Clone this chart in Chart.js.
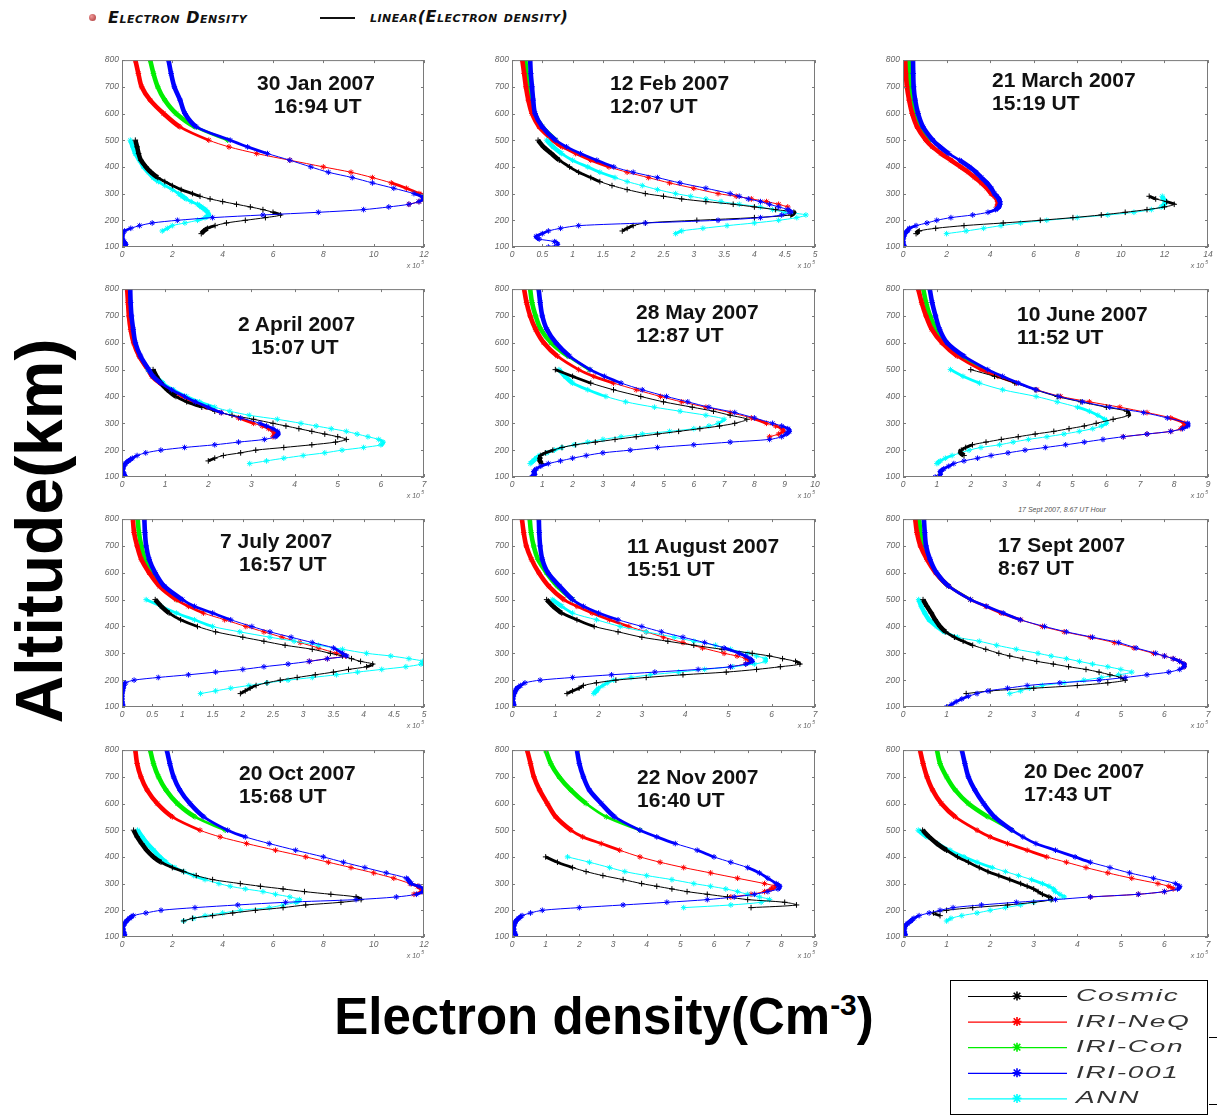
<!DOCTYPE html>
<html>
<head>
<meta charset="utf-8">
<title>Electron density profiles 2007</title>
<script src="https://cdn.jsdelivr.net/npm/chart.js@4.4.1/dist/chart.umd.min.js"></script>
<style>
  html, body { margin: 0; padding: 0; background: #fff; }
  body { position: relative; width: 1219px; height: 1116px; overflow: hidden; font-family: "Liberation Sans", Arial, sans-serif; }
  canvas.panel { position: absolute; }
  .note { position: absolute; font-weight: bold; font-size: 21px; line-height: 24px; color: #111; white-space: nowrap; }
  .hand { position: absolute; font: italic bold 16px "DejaVu Sans", sans-serif; font-variant: small-caps; letter-spacing: .5px; color: #111; white-space: nowrap; line-height: 18px; }
  .leg { position: absolute; font: italic 17px "Liberation Sans", Arial, sans-serif; letter-spacing: 1px; color: #333; transform-origin: 0 50%; transform: scaleX(1.65); white-space: nowrap; line-height: 20px; }
</style>
</head>
<body>
<div style="position:absolute;left:89px;top:14px;width:7px;height:7px;border-radius:50%;background:radial-gradient(circle at 35% 35%,#e99,#a33)"></div>
<div class="hand" style="left:108px;top:9px">Electron Density</div>
<div style="position:absolute;left:320px;top:17px;width:35px;height:1.5px;background:#111"></div>
<div class="hand" style="left:370px;top:8px">linear(Electron density)</div>

<div style="position:absolute;left:39px;top:531px;transform:translate(-50%,-50%) rotate(-90deg);font:bold 66px 'Liberation Sans',Arial,sans-serif;white-space:nowrap;line-height:72px">Altitude(km)</div>
<div style="position:absolute;left:604px;top:1020px;transform:translate(-50%,-50%);font:bold 51px 'Liberation Sans',Arial,sans-serif;white-space:nowrap;line-height:58px">Electron density(Cm<span style="font-size:30px;position:relative;top:-19px">-3</span>)</div>

<div style="position:absolute;left:1062px;top:506px;transform:translateX(-50%);font:italic 7px 'Liberation Sans',Arial,sans-serif;color:#555;white-space:nowrap">17 Sept 2007, 8.67 UT Hour</div>

<div style="position:absolute;left:950px;top:980px;width:256px;height:133px;border:1.5px solid #000"></div>
<div style="position:absolute;left:1209px;top:1037px;width:8px;height:1px;background:#000"></div>
<div style="position:absolute;left:1209px;top:1104px;width:8px;height:1px;background:#000"></div>
<canvas id="legendMarks" width="120" height="136" style="position:absolute;left:960px;top:980px"></canvas>
<div id="legendText"></div>

<script>
// altitude grids (km)
const ALT_IRI = [100,110,120,130,140,150,160,170,180,190,200,210,220,230,240,250,260,270,280,290,300,320,340,360,380,400,425,450,475,500,550,600,650,700,750,800];
const ALT_NEQ = [250,260,270,280,290,300,320,340,360,380,400,425,450,475,500,550,600,650,700,750,800];
const ALT_CON = [500,550,600,650,700,750,800];
const ALT_OBS = [150,160,170,180,190,200,210,220,230,240,250,260,270,280,290,300,315,330,345,360,380,400,425,450,475,500];

const DATES = ['30 Jan 2007','12 Feb 2007','21 March 2007','2 April 2007','28 May 2007','10 June 2007',
               '7 July 2007','11 August 2007','17 Sept 2007','20 Oct 2007','22 Nov 2007','20 Dec 2007'];
const TIMES = ['16:94 UT','12:07 UT','15:19 UT','15:07 UT','12:87 UT','11:52 UT',
               '16:57 UT','15:51 UT','8:67 UT','15:68 UT','16:40 UT','17:43 UT'];
const X_MAX  = [12, 5, 14, 7, 10, 9, 5, 7, 7, 12, 9, 7];
const X_STEP = [2, 0.5, 2, 1, 1, 1, 0.5, 1, 1, 2, 1, 1];

// electron density (x10^5 cm^-3), one row per panel
const IRI_001 = [
  [0.12,0.15,0.08,0.02,0,0.03,0.1,0.35,0.7,1.2,2.2,3.6,5.6,7.8,9.6,10.6,11.4,11.8,12.0,11.9,11.6,10.8,9.95,9.15,8.2,7.5,6.67,5.78,4.99,4.3,2.96,2.5,2.31,2.08,1.95,1.85],
  [0.6,0.75,0.7,0.45,0.4,0.5,0.6,0.8,1.1,2.2,3.4,4.1,4.45,4.6,4.55,4.4,4.25,4.1,3.9,3.75,3.6,3.2,2.77,2.4,2.0,1.68,1.4,1.13,0.9,0.72,0.5,0.38,0.35,0.33,0.31,0.3],
  [0.07,0.02,0,0,0.04,0.08,0.2,0.3,0.6,1.1,1.55,2.2,3.2,3.9,4.25,4.4,4.45,4.45,4.4,4.3,4.2,4.05,3.85,3.6,3.35,3.05,2.6,2.1,1.7,1.37,0.92,0.69,0.56,0.49,0.47,0.46],
  [0.08,0.05,0.02,0.02,0.04,0.08,0.15,0.24,0.35,0.55,0.9,1.45,2.15,2.7,3.3,3.55,3.62,3.6,3.5,3.35,3.2,2.75,2.3,2.0,1.7,1.45,1.15,0.9,0.72,0.62,0.43,0.31,0.26,0.22,0.2,0.19],
  [0.65,0.75,0.72,0.8,0.95,1.2,1.6,2.0,2.45,3.0,3.9,4.8,6.0,7.2,8.5,8.9,9.05,9.15,9.1,8.9,8.6,8.0,7.35,6.5,5.8,5.1,4.3,3.6,3.05,2.58,1.9,1.45,1.15,1.0,0.93,0.88],
  [0.95,1.1,1.1,1.2,1.35,1.5,1.8,2.2,2.6,3.1,3.6,4.2,4.8,5.35,5.9,6.5,7.2,7.9,8.25,8.4,8.4,7.8,7.1,6.1,5.3,4.6,3.93,3.4,2.94,2.5,1.8,1.3,1.08,0.96,0.86,0.79],
  [0.02,0.01,0,0,0,0,0.01,0.02,0.03,0.06,0.2,0.6,1.1,1.55,2.0,2.35,2.75,3.1,3.4,3.72,3.65,3.5,3.15,2.8,2.45,2.15,1.8,1.5,1.2,1.0,0.7,0.55,0.45,0.4,0.38,0.37],
  [0.05,0.04,0.02,0.02,0.03,0.05,0.08,0.12,0.2,0.3,0.65,1.4,2.3,3.3,4.3,5.05,5.4,5.55,5.5,5.4,5.25,4.9,4.45,3.95,3.45,3.0,2.45,2.0,1.65,1.4,1.1,0.83,0.7,0.65,0.63,0.62],
  [1.0,1.12,1.22,1.35,1.5,1.7,1.95,2.4,2.85,3.6,4.5,5.1,5.6,6.1,6.35,6.45,6.45,6.35,6.2,6.0,5.8,5.35,4.95,4.35,3.75,3.25,2.69,2.3,1.92,1.55,1.05,0.77,0.62,0.53,0.5,0.48],
  [0.12,0.1,0.06,0.04,0.04,0.1,0.18,0.3,0.45,0.95,1.55,2.9,4.6,6.5,9.3,10.9,11.7,11.95,12.0,11.8,11.5,11.3,10.5,9.65,8.8,8.0,6.9,5.85,4.9,4.2,3.25,2.7,2.3,2.05,1.9,1.78],
  [0.12,0.1,0.06,0.05,0.05,0.08,0.12,0.2,0.3,0.55,0.9,2.0,3.3,4.6,5.8,6.6,7.2,7.6,7.9,7.95,7.85,7.6,7.35,7.0,6.5,6.0,5.5,4.85,4.3,3.8,3.05,2.65,2.3,2.12,2.0,1.93],
  [0.05,0.05,0.03,0.03,0.05,0.1,0.18,0.25,0.37,0.6,0.85,1.15,1.8,2.6,3.5,4.3,5.4,6.0,6.3,6.35,6.25,5.75,5.2,4.75,4.3,3.95,3.5,3.05,2.75,2.5,2.1,1.85,1.65,1.5,1.42,1.35]
];
const IRI_NEQ = [
  [null,11.4,11.8,12.0,11.95,11.8,11.3,10.7,9.95,9.1,8.0,6.67,5.35,4.25,3.45,2.3,1.65,1.12,0.78,0.65,0.53],
  [4.55,4.4,4.2,3.95,3.7,3.4,3.0,2.6,2.25,1.9,1.6,1.3,1.05,0.83,0.68,0.45,0.33,0.27,0.23,0.2,0.17],
  [4.3,4.35,4.35,4.3,4.2,4.05,3.85,3.6,3.3,3.0,2.65,2.2,1.75,1.35,1.05,0.65,0.42,0.28,0.18,0.13,0.1],
  [3.5,3.55,3.5,3.4,3.25,3.05,2.7,2.3,1.95,1.65,1.4,1.1,0.88,0.7,0.6,0.4,0.27,0.2,0.16,0.14,0.12],
  [8.5,8.8,8.95,8.9,8.7,8.4,7.9,7.2,6.4,5.6,4.9,4.1,3.35,2.7,2.2,1.5,1.05,0.78,0.6,0.48,0.4],
  [6.5,7.2,7.9,8.2,8.3,8.3,7.9,7.2,6.4,5.5,4.65,3.95,3.35,2.8,2.3,1.6,1.15,0.85,0.68,0.55,0.45],
  [null,null,3.1,3.4,3.7,3.55,3.25,2.95,2.65,2.35,2.05,1.7,1.35,1.1,0.9,0.62,0.45,0.32,0.25,0.2,0.18],
  [5.05,5.4,5.5,5.4,5.2,4.9,4.4,3.95,3.5,3.1,2.7,2.25,1.85,1.5,1.2,0.85,0.62,0.45,0.33,0.27,0.23],
  [6.45,6.45,6.35,6.2,6.0,5.75,5.3,4.85,4.3,3.7,3.2,2.7,2.25,1.9,1.55,1.05,0.75,0.55,0.4,0.32,0.28],
  [null,11.6,11.9,11.9,11.75,11.45,10.8,10.0,9.1,8.2,7.3,6.1,4.95,3.9,3.1,2.0,1.4,1.0,0.75,0.6,0.53],
  [6.5,7.1,7.5,7.7,7.8,7.5,6.7,5.9,5.1,4.4,3.8,3.2,2.65,2.1,1.75,1.3,1.05,0.82,0.65,0.55,0.45],
  [4.3,5.4,6.0,6.2,6.1,5.85,5.25,4.7,4.2,3.75,3.3,2.85,2.4,2.0,1.7,1.2,0.88,0.68,0.55,0.46,0.39]
];
const IRI_CON = [
  [4.2,2.9,2.15,1.7,1.42,1.25,1.12],
  [0.72,0.5,0.37,0.32,0.28,0.24,0.22],
  [1.2,0.75,0.5,0.38,0.32,0.29,0.27],
  [0.61,0.41,0.29,0.23,0.19,0.17,0.16],
  [2.55,1.85,1.3,0.95,0.78,0.66,0.6],
  [2.4,1.7,1.25,0.98,0.8,0.68,0.6],
  [0.92,0.66,0.5,0.38,0.32,0.28,0.26],
  [1.4,1.05,0.8,0.6,0.5,0.44,0.41],
  [1.55,1.05,0.76,0.58,0.46,0.4,0.37],
  [4.1,2.9,2.2,1.75,1.45,1.25,1.12],
  [3.8,2.8,2.2,1.75,1.4,1.15,1.0],
  [2.5,1.95,1.5,1.2,1.0,0.85,0.78]
];
const COSMIC = [
  [3.15,3.25,3.4,3.7,4.15,4.9,5.7,6.3,6.0,5.6,5.1,4.55,4.0,3.5,3.1,2.8,2.35,2.0,1.7,1.42,1.15,0.95,0.75,0.66,0.6,0.53],
  [null,1.82,1.9,2.0,2.2,3.05,4.0,4.6,4.65,4.35,4.0,3.65,3.2,2.8,2.5,2.2,1.9,1.65,1.45,1.3,1.1,0.95,0.78,0.65,0.52,0.43],
  [0.6,0.75,1.5,2.8,4.6,6.3,7.8,9.1,10.2,11.2,12.0,12.45,12.1,11.6,11.3,null,null,null,null,null,null,null,null,null,null,null],
  [null,2.0,2.15,2.35,2.75,3.1,3.75,4.4,4.95,5.2,5.0,4.7,4.4,4.1,3.8,3.5,3.05,2.55,2.15,1.85,1.5,1.25,1.05,0.9,0.8,0.72],
  [0.98,0.92,0.92,0.95,1.1,1.35,1.65,2.1,2.75,3.4,4.1,4.8,5.5,6.2,6.85,7.35,7.75,7.2,6.65,5.95,5.0,4.25,3.35,2.6,2.0,1.43],
  [null,null,null,1.8,1.7,1.72,1.85,2.05,2.45,2.9,3.4,3.9,4.45,4.9,5.35,5.7,6.2,6.65,6.6,6.0,5.25,4.55,3.9,3.3,2.7,2.0],
  [1.96,2.04,2.12,2.22,2.4,2.62,2.9,3.2,3.5,3.75,4.05,4.15,3.95,3.8,3.65,3.45,3.15,2.7,2.35,2.0,1.55,1.25,0.97,0.78,0.65,0.55],
  [1.27,1.4,1.55,1.65,1.95,2.4,3.1,3.95,4.95,5.65,6.2,6.65,6.55,6.25,5.95,5.55,4.85,4.2,3.6,3.0,2.45,1.9,1.5,1.15,0.95,0.8],
  [1.45,2.0,3.0,4.0,4.7,5.1,5.0,4.75,4.5,4.2,3.8,3.45,3.07,2.75,2.45,2.2,1.9,1.6,1.38,1.18,0.98,0.85,0.74,0.65,0.55,0.46],
  [null,2.45,2.8,3.6,4.4,5.3,6.4,7.3,8.7,9.5,9.3,8.3,7.25,6.4,5.5,4.7,3.6,2.95,2.45,2.0,1.55,1.25,0.98,0.78,0.6,0.46],
  [null,null,null,null,null,null,7.1,8.45,8.1,7.0,6.4,5.8,5.2,4.75,4.3,3.85,3.3,2.7,2.2,1.8,1.35,1.0,null,null,null,null],
  [null,null,null,0.85,0.7,1.0,1.6,2.4,3.0,3.4,3.35,3.2,3.1,3.0,2.85,2.7,2.45,2.2,1.95,1.75,1.5,1.25,1.0,0.78,0.6,0.45]
];
const ANN = [
  [null,1.6,1.8,2.0,2.5,3.0,3.3,3.45,3.4,3.3,3.15,3.0,2.75,2.55,2.4,2.25,2.0,1.7,1.45,1.25,1.05,0.86,0.7,0.53,0.43,0.33],
  [2.7,2.8,3.15,3.55,4.0,4.4,4.7,4.85,4.5,4.3,4.1,3.75,3.45,3.2,2.95,2.7,2.4,2.15,1.9,1.7,1.45,1.25,1.0,0.82,0.68,0.57],
  [2.0,2.9,3.7,4.5,5.4,6.6,8.0,9.4,10.6,11.4,11.85,12.0,12.05,11.95,11.9,null,null,null,null,null,null,null,null,null,null,null],
  [2.96,3.35,3.75,4.2,4.7,5.1,5.6,6.0,6.05,5.95,5.7,5.45,5.2,4.85,4.5,4.15,3.6,2.95,2.5,2.15,1.8,1.5,1.19,0.95,0.77,0.6],
  [0.6,0.7,0.8,0.92,1.15,1.4,1.65,2.05,2.5,3.0,3.6,4.3,5.2,6.0,6.5,6.8,7.0,6.4,5.55,4.7,3.75,3.1,2.5,2.0,1.75,1.55],
  [1.0,1.1,1.25,1.45,1.7,1.95,2.3,2.85,3.25,3.7,4.25,4.75,5.2,5.6,5.85,6.0,5.95,5.75,5.5,5.15,4.55,3.93,2.94,2.26,1.77,1.4],
  [1.3,1.55,1.8,2.1,2.4,2.75,3.15,3.55,3.9,4.3,4.7,4.95,4.98,4.75,4.45,4.05,3.65,3.25,2.85,2.45,1.95,1.5,1.2,0.9,0.65,0.4],
  [1.89,1.95,2.0,2.1,2.2,2.35,2.75,3.2,3.85,4.45,5.1,5.6,5.85,5.85,5.65,5.45,5.05,4.7,4.2,3.75,3.1,2.5,1.95,1.4,1.15,0.93],
  [2.45,2.7,2.9,3.2,3.7,4.15,4.55,4.95,5.25,5.0,4.7,4.35,4.05,3.75,3.4,3.1,2.6,2.15,1.75,1.25,0.95,0.78,0.6,0.5,0.42,0.36],
  [null,2.45,2.85,3.3,4.0,4.7,5.85,6.4,6.9,7.05,6.67,6.1,5.6,4.9,4.3,3.85,3.3,2.85,2.45,2.1,1.75,1.5,1.25,1.0,0.8,0.62],
  [null,null,null,null,null,null,5.1,6.5,7.4,7.65,7.35,7.0,6.7,6.35,5.9,5.4,4.75,4.0,3.35,2.9,2.3,1.65,null,null,null,null],
  [null,1.0,1.1,1.35,1.7,2.0,2.35,2.7,3.0,3.4,3.7,3.6,3.5,3.45,3.35,3.2,2.95,2.65,2.35,2.05,1.7,1.4,1.08,0.8,0.55,0.35]
];

const LEGEND_NAMES = ['Cosmic', 'IRI-NeQ', 'IRI-Con', 'IRI-001', 'ANN'];
const COLORS = { 'Cosmic': '#000000', 'IRI-NeQ': '#ff0000', 'IRI-Con': '#00ee00', 'IRI-001': '#0000ff', 'ANN': '#00ffff' };

// layout: plot boxes and in-panel notes
const COLS = [[122, 424], [512, 815], [903, 1208]];
const ROWS = [[60, 247], [289, 477], [519, 707], [750, 937]];
const NOTE_X1 = [257, 610, 992, 238, 636, 1017, 220, 627, 998, 239, 637, 1024];
const NOTE_X2 = [274, 610, 992, 251, 636, 1017, 239, 627, 998, 239, 637, 1024];
const NOTE_Y  = [83, 83, 80, 324, 312, 314, 541, 546, 545, 773, 777, 771];

const pick = (alts, vals) => alts.map((a, i) => vals[i] == null ? null : { x: vals[i], y: a }).filter(Boolean);

// markers sit a few km apart, so steep stretches read as a thick band
function bandWidth(ctx) {
  const dx = Math.abs(ctx.p1.x - ctx.p0.x);
  const dy = Math.abs(ctx.p1.y - ctx.p0.y) + 0.01;
  const s = dx / dy;
  if (s < 1.5) return 4.6;
  if (s < 3) return 2.8;
  return 1;
}

function series(name, style, pts) {
  const c = COLORS[name];
  return {
    label: name, data: pts, showLine: true,
    borderColor: c, backgroundColor: c, borderWidth: 1,
    pointStyle: style, pointRadius: 2.8, pointBorderWidth: 1, pointBorderColor: c, pointHoverRadius: 0,
    tension: 0.3, segment: { borderWidth: bandWidth }
  };
}

const matlabAxes = {
  id: 'matlabAxes',
  afterDraw(chart) {
    const { ctx, chartArea: a, scales: { x, y } } = chart;
    ctx.save();
    ctx.strokeStyle = '#7a7a7a';
    ctx.lineWidth = 1;
    ctx.strokeRect(a.left + 0.5, a.top + 0.5, a.right - a.left - 1, a.bottom - a.top - 1);
    ctx.beginPath();
    x.ticks.forEach(t => {
      const p = Math.round(x.getPixelForValue(t.value)) + 0.5;
      ctx.moveTo(p, a.bottom); ctx.lineTo(p, a.bottom - 3);
      ctx.moveTo(p, a.top); ctx.lineTo(p, a.top + 3);
    });
    y.ticks.forEach(t => {
      const p = Math.round(y.getPixelForValue(t.value)) + 0.5;
      ctx.moveTo(a.left, p); ctx.lineTo(a.left + 3, p);
      ctx.moveTo(a.right, p); ctx.lineTo(a.right - 3, p);
    });
    ctx.stroke();
    ctx.fillStyle = '#666';
    ctx.textAlign = 'right';
    ctx.font = 'italic 7px "Liberation Sans", Arial';
    ctx.fillText('x 10', a.right - 4, a.bottom + 21);
    ctx.font = 'italic 5px "Liberation Sans", Arial';
    ctx.fillText('5', a.right, a.bottom + 17);
    ctx.restore();
  }
};

const tickFont = { family: '"Liberation Sans", Arial, sans-serif', size: 8.5, style: 'italic' };
const noGrid = { display: false, drawTicks: false, tickLength: 0 };

for (let i = 0; i < 12; i++) {
  const [l, r] = COLS[i % 3];
  const [t, b] = ROWS[Math.floor(i / 3)];
  const cv = document.createElement('canvas');
  cv.className = 'panel';
  cv.width = (r - l) + 40;
  cv.height = (b - t) + 38;
  cv.style.left = (l - 30) + 'px';
  cv.style.top = (t - 8) + 'px';
  document.body.appendChild(cv);

  new Chart(cv, {
    type: 'scatter',
    data: {
      datasets: [
        series('IRI-001', 'star', pick(ALT_IRI, IRI_001[i])),
        series('Cosmic', 'cross', pick(ALT_OBS, COSMIC[i])),
        series('ANN', 'star', pick(ALT_OBS, ANN[i])),
        series('IRI-NeQ', 'star', pick(ALT_NEQ, IRI_NEQ[i])),
        series('IRI-Con', 'star', pick(ALT_CON, IRI_CON[i]))
      ]
    },
    options: {
      responsive: false, animation: false, events: [],
      layout: { padding: { left: 8, top: 8, right: 10, bottom: 0 } },
      plugins: { legend: { display: false }, tooltip: { enabled: false } },
      scales: {
        x: {
          type: 'linear', min: 0, max: X_MAX[i],
          grid: noGrid, border: { display: false },
          afterFit: s => { s.height = 30; },
          ticks: { stepSize: X_STEP[i], autoSkip: false, maxRotation: 0, padding: 3, color: '#666', font: tickFont,
                   callback: v => String(+v.toFixed(2)) }
        },
        y: {
          type: 'linear', min: 100, max: 800,
          grid: noGrid, border: { display: false },
          afterFit: s => { s.width = 22; },
          ticks: { stepSize: 100, autoSkip: false, padding: 3, color: '#666', font: tickFont }
        }
      }
    },
    plugins: [matlabAxes]
  });

  const n1 = document.createElement('div');
  n1.className = 'note';
  n1.textContent = DATES[i];
  n1.style.left = NOTE_X1[i] + 'px';
  n1.style.top = (NOTE_Y[i] - 12) + 'px';
  document.body.appendChild(n1);
  const n2 = document.createElement('div');
  n2.className = 'note';
  n2.textContent = TIMES[i];
  n2.style.left = NOTE_X2[i] + 'px';
  n2.style.top = (NOTE_Y[i] + 11) + 'px';
  document.body.appendChild(n2);
}

// bottom-right legend
const lg = document.getElementById('legendMarks').getContext('2d');
const legendText = document.getElementById('legendText');
LEGEND_NAMES.forEach((name, k) => {
  const yy = 16 + k * 25.6;
  const c = COLORS[name];
  lg.strokeStyle = c;
  lg.lineWidth = 1.2;
  lg.beginPath();
  lg.moveTo(8, yy + 0.5); lg.lineTo(107, yy + 0.5);
  lg.stroke();
  lg.lineWidth = 1.6;
  lg.beginPath();
  const cx = 57, r = 4.5;
  lg.moveTo(cx - r, yy); lg.lineTo(cx + r, yy);
  lg.moveTo(cx, yy - r); lg.lineTo(cx, yy + r);
  lg.moveTo(cx - 3.3, yy - 3.3); lg.lineTo(cx + 3.3, yy + 3.3);
  lg.moveTo(cx - 3.3, yy + 3.3); lg.lineTo(cx + 3.3, yy - 3.3);
  lg.stroke();
  const d = document.createElement('div');
  d.className = 'leg';
  d.textContent = name;
  d.style.left = '1076px';
  d.style.top = (980 + yy - 10) + 'px';
  legendText.appendChild(d);
});
</script>
</body>
</html>
